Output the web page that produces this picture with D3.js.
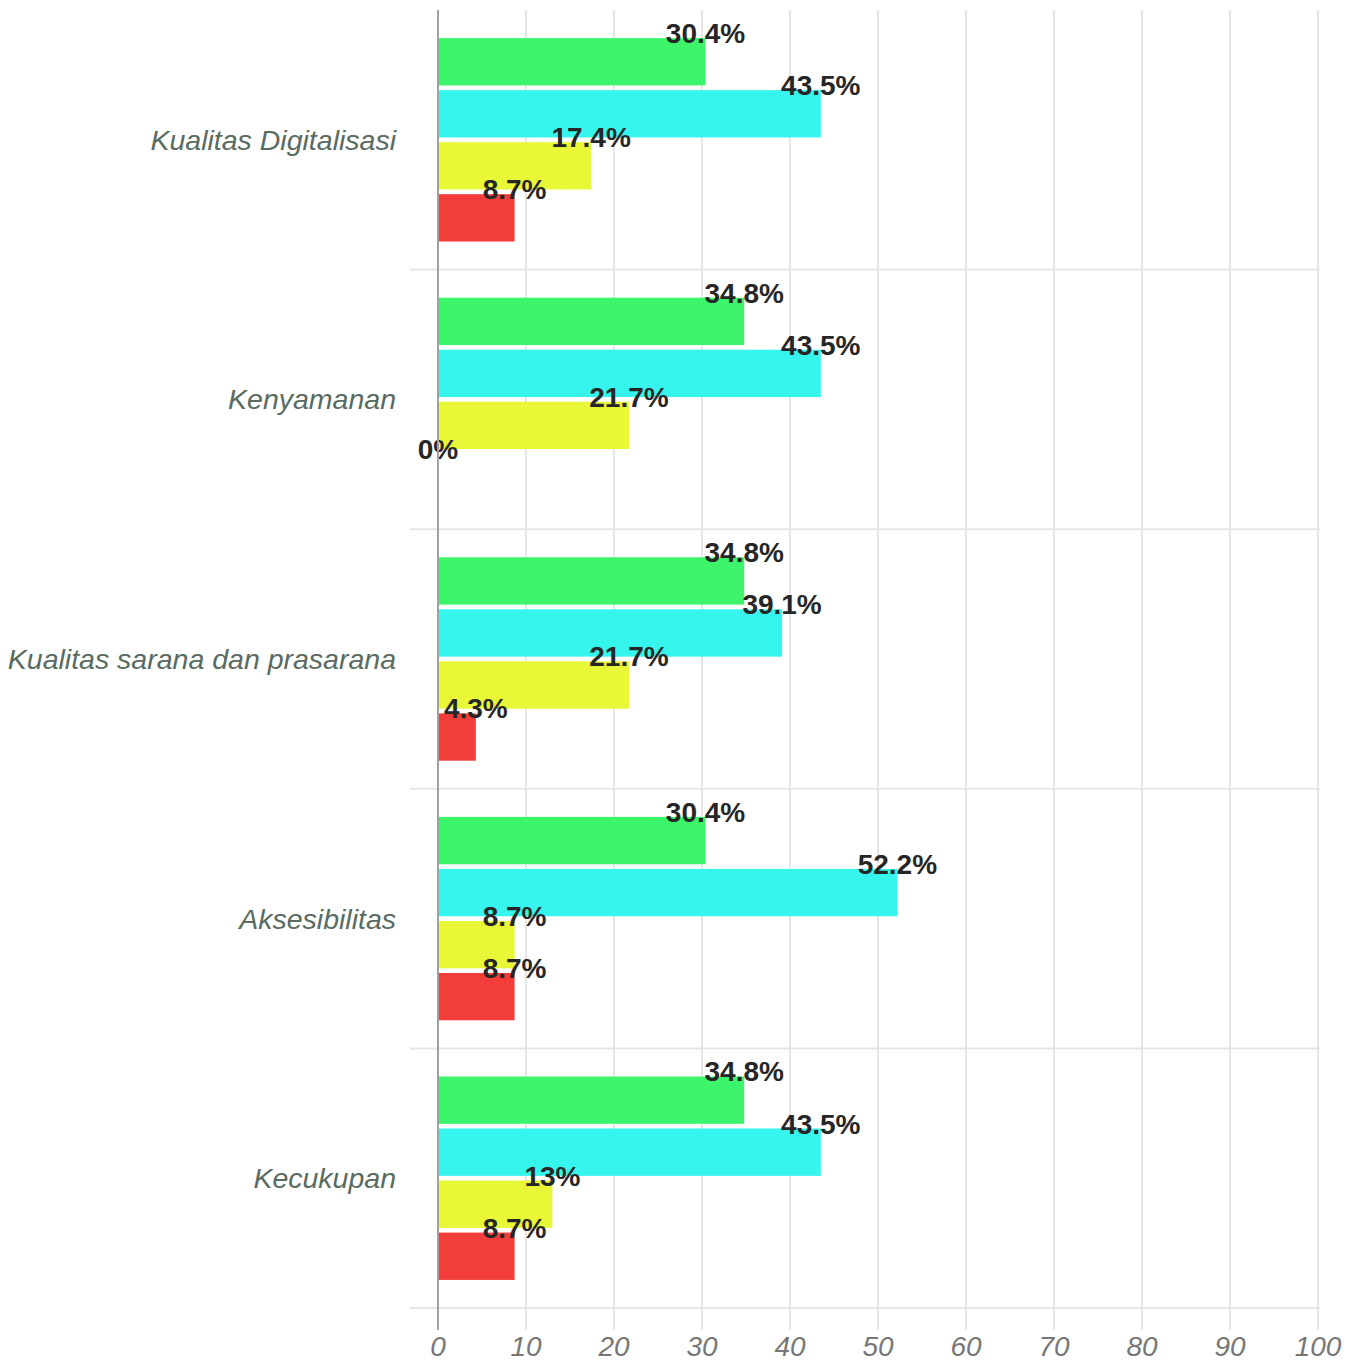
<!DOCTYPE html>
<html>
<head>
<meta charset="utf-8">
<script src="https://cdn.jsdelivr.net/npm/d3@7"></script>
<style>
  body { margin: 0; background: #fff; }
  text { font-family: "Liberation Sans", Arial, sans-serif; }
</style>
</head>
<body>
<div id="chart"></div>
<script>
// categories top to bottom
let categories = ["Kualitas Digitalisasi", "Kenyamanan", "Kualitas sarana dan prasarana", "Aksesibilitas", "Kecukupan"];
let seriesNames = ["s1", "s2", "s3", "s4"];
let seriesColors = ["#3cf56a", "#35f5ec", "#e8f736", "#f23d3b"];
// values per series, in category order
let s1Values = [30.4, 34.8, 34.8, 30.4, 34.8];
let s2Values = [43.5, 43.5, 39.1, 52.2, 43.5];
let s3Values = [17.4, 21.7, 21.7, 8.7, 13];
let s4Values = [8.7, 0, 4.3, 8.7, 8.7];
let xTicks = [0, 10, 20, 30, 40, 50, 60, 70, 80, 90, 100];

let svgWidth = 1360;
let svgHeight = 1365;

const allValues = [s1Values, s2Values, s3Values, s4Values];
const rows = categories.map((c, i) => ({
  cat: c,
  vals: seriesNames.map((s, j) => ({ key: s, value: allValues[j][i], color: seriesColors[j] }))
}));

const svg = d3.select("#chart").append("svg")
  .attr("width", svgWidth)
  .attr("height", svgHeight);

const x = d3.scaleLinear().domain([0, 100]).range([438, 1318]);
const y = d3.scaleBand().domain(categories).range([10, 1308]);
const y1 = d3.scaleBand().domain(seriesNames).range([0, y.bandwidth()])
  .paddingInner(0.09).paddingOuter(0.54);

// vertical gridlines
svg.append("g").selectAll("line")
  .data(xTicks.filter(d => d > 0))
  .enter().append("line")
  .attr("x1", d => x(d)).attr("x2", d => x(d))
  .attr("y1", 10).attr("y2", 1330)
  .attr("stroke", "#e6e6e6").attr("stroke-width", 2);

// horizontal separators under each band
svg.append("g").selectAll("line")
  .data(categories)
  .enter().append("line")
  .attr("x1", 410).attr("x2", 1320)
  .attr("y1", d => y(d) + y.bandwidth()).attr("y2", d => y(d) + y.bandwidth())
  .attr("stroke", "#e6e6e6").attr("stroke-width", 2);

const groups = svg.append("g").selectAll("g")
  .data(rows)
  .enter().append("g")
  .attr("transform", d => `translate(0,${y(d.cat)})`);

groups.selectAll("rect")
  .data(d => d.vals)
  .enter().append("rect")
  .attr("x", x(0))
  .attr("y", d => y1(d.key))
  .attr("width", d => x(d.value) - x(0))
  .attr("height", y1.bandwidth())
  .attr("fill", d => d.color);

// zero axis line
svg.append("line")
  .attr("x1", x(0)).attr("x2", x(0))
  .attr("y1", 10).attr("y2", 1330)
  .attr("stroke", "#a0a0a0").attr("stroke-width", 2);

groups.selectAll("text.val")
  .data(d => d.vals)
  .enter().append("text")
  .attr("class", "val")
  .attr("x", d => x(d.value))
  .attr("y", d => y1(d.key) + 5)
  .attr("text-anchor", "middle")
  .attr("font-size", 28)
  .attr("font-weight", "bold")
  .attr("fill", "#262626")
  .text(d => d.value + "%");

// category labels
groups.append("text")
  .attr("x", 396)
  .attr("y", y.bandwidth() / 2)
  .attr("dy", "0.35em")
  .attr("text-anchor", "end")
  .attr("font-size", 28.5)
  .attr("font-style", "italic")
  .attr("fill", "#5a6b62")
  .text(d => d.cat);

// x tick labels
svg.append("g").selectAll("text")
  .data(xTicks)
  .enter().append("text")
  .attr("x", d => x(d))
  .attr("y", 1356)
  .attr("text-anchor", "middle")
  .attr("font-size", 28)
  .attr("font-style", "italic")
  .attr("fill", "#777")
  .text(d => d);
</script>
</body>
</html>
